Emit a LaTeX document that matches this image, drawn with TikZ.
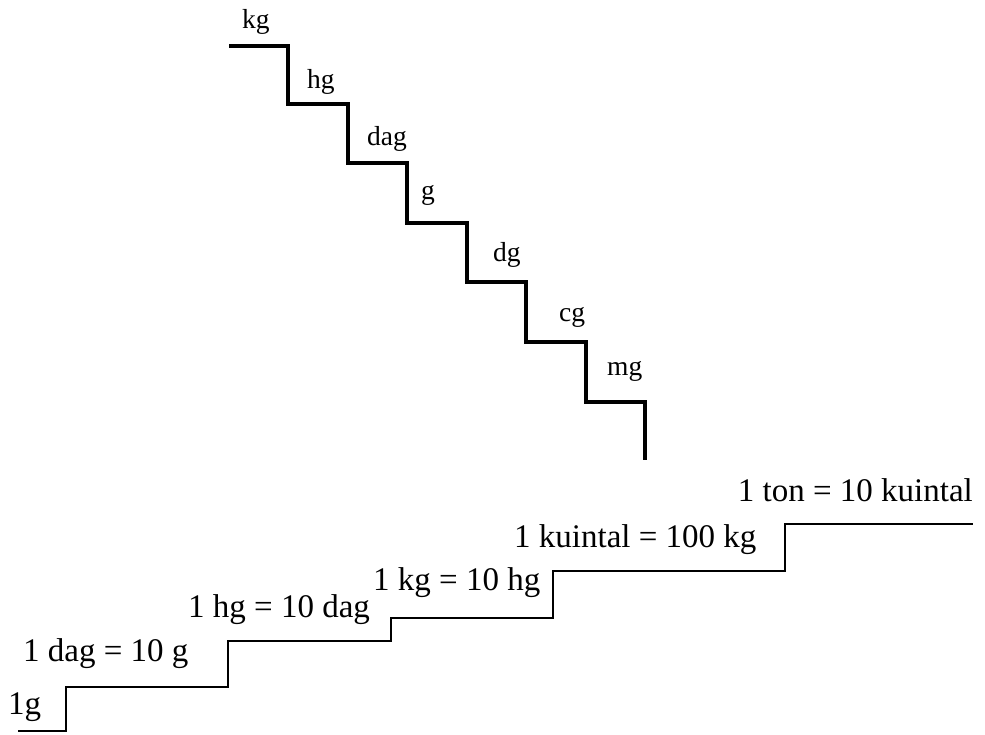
\documentclass[tikz,border=0pt]{standalone}
\usepackage{fontspec}
\setmainfont{Liberation Serif}
\usepackage{tikz}

\tikzset{
    unit/.style={anchor=base west, inner sep=0pt, font=\fontsize{27.5}{30}\selectfont},
    rule/.style={anchor=base west, inner sep=0pt, font=\fontsize{33}{36}\selectfont},
    stairs/.style={line width=3.3pt},
    ladder/.style={line width=2pt}
}

\begin{document}
\begin{tikzpicture}[x=1pt, y=-1pt]
    \useasboundingbox (0,0) rectangle (985,734);
    % going down: kg to mg
    \draw[stairs] (229,46) -| (288,104) -| (348,163) -| (407,223)
        -| (467,282) -| (526,342) -| (586,402) -| (645,460);
    \node[unit] (kg)  at (242,28)  {kg};
    \node[unit] (hg)  at (307,88)  {hg};
    \node[unit] (dag) at (367,145) {dag};
    \node[unit] (g)   at (421,199) {g};
    \node[unit] (dg)  at (493,261) {dg};
    \node[unit] (cg)  at (559,321) {cg};
    \node[unit] (mg)  at (607,375) {mg};
    % going up: 1g to 1 ton
    \draw[ladder] (18,731) -| (66,687) -| (228,641) -| (391,618)
        -| (553,571) -| (785,524) -- (973,524);
    \node[rule] (g1)   at (8,714)   {1g};
    \node[rule] (dag1) at (23,661)  {1 dag = 10 g};
    \node[rule] (hg1)  at (188,617) {1 hg = 10 dag};
    \node[rule] (kg1)  at (373,590) {1 kg = 10 hg};
    \node[rule] (kui1) at (514,547) {1 kuintal = 100 kg};
    \node[rule, anchor=base east] (ton1) at (973,501) {1 ton = 10 kuintal};
\end{tikzpicture}
\end{document}
